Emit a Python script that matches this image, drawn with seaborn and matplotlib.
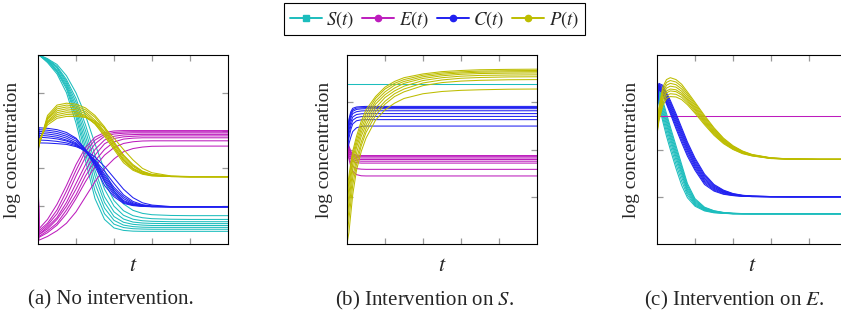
import matplotlib
matplotlib.use("Agg")
import matplotlib.pyplot as plt
import seaborn as sns
import pandas as pd
from matplotlib.lines import Line2D

# ---------------- data (normalised time t, normalised log concentration) ----------------
T_A = [0, 0.005, 0.05, 0.1, 0.15, 0.2, 0.25, 0.3, 0.35, 0.4, 0.45, 0.5, 0.55, 0.6, 0.7, 0.8, 1.0]

S_A = [
    [1.0, 1.0, 0.96, 0.90, 0.80, 0.64, 0.44, 0.24, 0.13, 0.085, 0.072, 0.068, 0.067, 0.067, 0.067, 0.067, 0.067],
    [1.0, 1.0, 0.965, 0.91, 0.82, 0.67, 0.48, 0.28, 0.16, 0.105, 0.087, 0.081, 0.079, 0.078, 0.078, 0.078, 0.078],
    [1.0, 1.0, 0.97, 0.915, 0.83, 0.69, 0.51, 0.32, 0.19, 0.125, 0.10, 0.092, 0.089, 0.088, 0.088, 0.088, 0.088],
    [1.0, 1.0, 0.97, 0.92, 0.84, 0.71, 0.54, 0.36, 0.22, 0.145, 0.115, 0.104, 0.10, 0.098, 0.098, 0.098, 0.098],
    [1.0, 1.0, 0.975, 0.93, 0.85, 0.73, 0.57, 0.39, 0.25, 0.17, 0.132, 0.116, 0.111, 0.109, 0.108, 0.108, 0.108],
    [1.0, 1.0, 0.975, 0.935, 0.86, 0.75, 0.60, 0.43, 0.29, 0.20, 0.152, 0.131, 0.123, 0.12, 0.118, 0.118, 0.118],
    [1.0, 1.0, 0.98, 0.94, 0.87, 0.77, 0.63, 0.47, 0.33, 0.23, 0.176, 0.15, 0.139, 0.134, 0.131, 0.13, 0.13],
    [1.0, 1.0, 0.98, 0.95, 0.89, 0.80, 0.68, 0.53, 0.39, 0.28, 0.212, 0.178, 0.162, 0.155, 0.151, 0.15, 0.15],
]
E_A = [
    [0.43, 0.08, 0.13, 0.21, 0.31, 0.42, 0.51, 0.565, 0.59, 0.598, 0.60, 0.60, 0.60, 0.60, 0.60, 0.60, 0.60],
    [0.43, 0.07, 0.11, 0.18, 0.28, 0.39, 0.49, 0.55, 0.58, 0.59, 0.593, 0.594, 0.594, 0.594, 0.594, 0.594, 0.594],
    [0.43, 0.06, 0.10, 0.16, 0.25, 0.36, 0.46, 0.53, 0.57, 0.582, 0.586, 0.588, 0.588, 0.588, 0.588, 0.588, 0.588],
    [0.43, 0.05, 0.09, 0.14, 0.22, 0.32, 0.42, 0.50, 0.55, 0.57, 0.577, 0.579, 0.58, 0.58, 0.58, 0.58, 0.58],
    [0.43, 0.05, 0.08, 0.13, 0.20, 0.29, 0.39, 0.47, 0.53, 0.558, 0.567, 0.57, 0.572, 0.572, 0.572, 0.572, 0.572],
    [0.43, 0.04, 0.07, 0.11, 0.18, 0.26, 0.36, 0.44, 0.50, 0.54, 0.555, 0.56, 0.562, 0.562, 0.562, 0.562, 0.562],
    [0.43, 0.035, 0.06, 0.10, 0.16, 0.24, 0.33, 0.41, 0.47, 0.51, 0.532, 0.541, 0.545, 0.546, 0.546, 0.546, 0.546],
    [0.43, 0.02, 0.04, 0.07, 0.11, 0.17, 0.25, 0.33, 0.40, 0.45, 0.488, 0.505, 0.513, 0.517, 0.518, 0.518, 0.518],
]
C_A = [
    [0.45, 0.615, 0.612, 0.605, 0.59, 0.56, 0.50, 0.41, 0.31, 0.25, 0.215, 0.203, 0.199, 0.197, 0.197, 0.197, 0.197],
    [0.45, 0.605, 0.602, 0.595, 0.58, 0.555, 0.50, 0.42, 0.33, 0.26, 0.22, 0.205, 0.20, 0.198, 0.197, 0.197, 0.197],
    [0.45, 0.595, 0.592, 0.585, 0.57, 0.545, 0.495, 0.425, 0.34, 0.27, 0.225, 0.207, 0.20, 0.198, 0.197, 0.197, 0.197],
    [0.45, 0.585, 0.582, 0.575, 0.56, 0.535, 0.49, 0.43, 0.35, 0.28, 0.23, 0.21, 0.201, 0.198, 0.197, 0.197, 0.197],
    [0.45, 0.575, 0.572, 0.565, 0.55, 0.53, 0.49, 0.435, 0.36, 0.29, 0.24, 0.213, 0.203, 0.199, 0.197, 0.197, 0.197],
    [0.45, 0.565, 0.562, 0.556, 0.545, 0.525, 0.49, 0.44, 0.37, 0.30, 0.25, 0.218, 0.205, 0.20, 0.197, 0.197, 0.197],
    [0.45, 0.55, 0.548, 0.543, 0.535, 0.52, 0.49, 0.445, 0.385, 0.32, 0.26, 0.225, 0.208, 0.201, 0.197, 0.197, 0.197],
    [0.45, 0.535, 0.534, 0.531, 0.527, 0.515, 0.495, 0.46, 0.41, 0.35, 0.29, 0.245, 0.218, 0.206, 0.198, 0.197, 0.197],
]
P_A = [
    [0.49, 0.52, 0.68, 0.735, 0.745, 0.74, 0.72, 0.68, 0.62, 0.54, 0.47, 0.415, 0.383, 0.367, 0.358, 0.356, 0.356],
    [0.49, 0.52, 0.67, 0.725, 0.735, 0.73, 0.71, 0.67, 0.61, 0.53, 0.46, 0.41, 0.38, 0.366, 0.358, 0.356, 0.356],
    [0.50, 0.53, 0.665, 0.715, 0.725, 0.72, 0.70, 0.655, 0.595, 0.52, 0.45, 0.40, 0.375, 0.364, 0.357, 0.356, 0.356],
    [0.50, 0.53, 0.66, 0.705, 0.715, 0.71, 0.69, 0.645, 0.585, 0.51, 0.44, 0.395, 0.372, 0.362, 0.357, 0.356, 0.356],
    [0.50, 0.53, 0.65, 0.695, 0.705, 0.70, 0.68, 0.635, 0.57, 0.50, 0.43, 0.39, 0.369, 0.36, 0.357, 0.356, 0.356],
    [0.51, 0.54, 0.645, 0.685, 0.695, 0.692, 0.675, 0.635, 0.58, 0.51, 0.445, 0.40, 0.374, 0.363, 0.357, 0.356, 0.356],
    [0.51, 0.54, 0.64, 0.675, 0.685, 0.683, 0.67, 0.64, 0.595, 0.535, 0.47, 0.42, 0.385, 0.368, 0.358, 0.356, 0.356],
    [0.52, 0.55, 0.63, 0.665, 0.675, 0.675, 0.67, 0.65, 0.615, 0.56, 0.50, 0.445, 0.40, 0.377, 0.36, 0.357, 0.356],
]

T_B = [0, 0.01, 0.02, 0.03, 0.05, 0.075, 0.1, 0.15, 0.2, 0.25, 0.3, 0.4, 0.5, 0.6, 0.7, 0.85, 1.0]

S_B = [
    [0.848, 0.848, 0.848, 0.848, 0.848, 0.848, 0.848, 0.848, 0.848, 0.848, 0.848, 0.848, 0.848, 0.848, 0.848, 0.848, 0.848],
]
E_B = [
    [0.56, 0.52, 0.49, 0.478, 0.47, 0.468, 0.468, 0.468, 0.468, 0.468, 0.468, 0.468, 0.468, 0.468, 0.468, 0.468, 0.468],
    [0.55, 0.51, 0.485, 0.472, 0.464, 0.462, 0.462, 0.462, 0.462, 0.462, 0.462, 0.462, 0.462, 0.462, 0.462, 0.462, 0.462],
    [0.54, 0.50, 0.478, 0.465, 0.457, 0.455, 0.455, 0.455, 0.455, 0.455, 0.455, 0.455, 0.455, 0.455, 0.455, 0.455, 0.455],
    [0.53, 0.49, 0.47, 0.457, 0.449, 0.447, 0.447, 0.447, 0.447, 0.447, 0.447, 0.447, 0.447, 0.447, 0.447, 0.447, 0.447],
    [0.52, 0.48, 0.46, 0.448, 0.44, 0.438, 0.438, 0.438, 0.438, 0.438, 0.438, 0.438, 0.438, 0.438, 0.438, 0.438, 0.438],
    [0.51, 0.47, 0.45, 0.438, 0.43, 0.428, 0.428, 0.428, 0.428, 0.428, 0.428, 0.428, 0.428, 0.428, 0.428, 0.428, 0.428],
    [0.50, 0.46, 0.43, 0.412, 0.399, 0.396, 0.395, 0.395, 0.395, 0.395, 0.395, 0.395, 0.395, 0.395, 0.395, 0.395, 0.395],
    [0.49, 0.45, 0.41, 0.385, 0.367, 0.361, 0.36, 0.36, 0.36, 0.36, 0.36, 0.36, 0.36, 0.36, 0.36, 0.36, 0.36],
]
C_B = [
    [0.56, 0.66, 0.70, 0.718, 0.725, 0.727, 0.728, 0.728, 0.728, 0.728, 0.728, 0.728, 0.728, 0.728, 0.728, 0.728, 0.728],
    [0.55, 0.65, 0.69, 0.71, 0.719, 0.721, 0.722, 0.722, 0.722, 0.722, 0.722, 0.722, 0.722, 0.722, 0.722, 0.722, 0.722],
    [0.54, 0.64, 0.68, 0.702, 0.712, 0.715, 0.716, 0.716, 0.716, 0.716, 0.716, 0.716, 0.716, 0.716, 0.716, 0.716, 0.716],
    [0.53, 0.62, 0.665, 0.69, 0.70, 0.704, 0.705, 0.705, 0.705, 0.705, 0.705, 0.705, 0.705, 0.705, 0.705, 0.705, 0.705],
    [0.52, 0.60, 0.645, 0.672, 0.685, 0.689, 0.69, 0.69, 0.69, 0.69, 0.69, 0.69, 0.69, 0.69, 0.69, 0.69, 0.69],
    [0.51, 0.58, 0.625, 0.655, 0.669, 0.674, 0.675, 0.675, 0.675, 0.675, 0.675, 0.675, 0.675, 0.675, 0.675, 0.675, 0.675],
    [0.50, 0.56, 0.605, 0.635, 0.652, 0.657, 0.658, 0.658, 0.658, 0.658, 0.658, 0.658, 0.658, 0.658, 0.658, 0.658, 0.658],
    [0.49, 0.53, 0.565, 0.595, 0.615, 0.622, 0.624, 0.624, 0.624, 0.624, 0.624, 0.624, 0.624, 0.624, 0.624, 0.624, 0.624],
]
P_B = [
    [0.28, 0.36, 0.43, 0.49, 0.57, 0.65, 0.71, 0.78, 0.83, 0.86, 0.88, 0.90, 0.912, 0.918, 0.922, 0.924, 0.925],
    [0.24, 0.33, 0.41, 0.47, 0.55, 0.63, 0.69, 0.77, 0.82, 0.85, 0.87, 0.893, 0.905, 0.911, 0.915, 0.917, 0.918],
    [0.20, 0.30, 0.38, 0.45, 0.53, 0.61, 0.67, 0.755, 0.805, 0.84, 0.86, 0.885, 0.898, 0.905, 0.909, 0.911, 0.912],
    [0.16, 0.26, 0.35, 0.42, 0.51, 0.59, 0.65, 0.74, 0.79, 0.825, 0.85, 0.876, 0.89, 0.898, 0.902, 0.904, 0.905],
    [0.12, 0.22, 0.31, 0.39, 0.48, 0.57, 0.63, 0.72, 0.775, 0.81, 0.835, 0.865, 0.88, 0.888, 0.892, 0.894, 0.895],
    [0.08, 0.18, 0.27, 0.35, 0.45, 0.54, 0.61, 0.70, 0.755, 0.795, 0.82, 0.852, 0.868, 0.877, 0.881, 0.884, 0.885],
    [0.04, 0.13, 0.22, 0.31, 0.42, 0.52, 0.59, 0.68, 0.74, 0.78, 0.805, 0.838, 0.854, 0.862, 0.866, 0.869, 0.87],
    [0.0, 0.06, 0.16, 0.26, 0.39, 0.49, 0.56, 0.655, 0.71, 0.745, 0.77, 0.795, 0.807, 0.813, 0.816, 0.819, 0.82],
]

T_C = [0, 0.01, 0.03, 0.05, 0.07, 0.1, 0.13, 0.16, 0.2, 0.25, 0.3, 0.35, 0.4, 0.45, 0.5, 0.6, 0.7, 0.85, 1.0]

S_C = [
    [0.84, 0.82, 0.76, 0.69, 0.62, 0.52, 0.42, 0.32, 0.24, 0.195, 0.176, 0.167, 0.163, 0.161, 0.16, 0.16, 0.16, 0.16, 0.16],
    [0.835, 0.81, 0.745, 0.675, 0.605, 0.504, 0.407, 0.31, 0.234, 0.192, 0.175, 0.166, 0.162, 0.161, 0.16, 0.16, 0.16, 0.16, 0.16],
    [0.83, 0.80, 0.73, 0.66, 0.59, 0.49, 0.395, 0.30, 0.228, 0.189, 0.173, 0.165, 0.162, 0.16, 0.16, 0.16, 0.16, 0.16, 0.16],
    [0.82, 0.79, 0.715, 0.645, 0.575, 0.475, 0.382, 0.29, 0.222, 0.186, 0.171, 0.164, 0.161, 0.16, 0.16, 0.16, 0.16, 0.16, 0.16],
    [0.81, 0.78, 0.70, 0.63, 0.56, 0.46, 0.37, 0.28, 0.216, 0.183, 0.17, 0.164, 0.161, 0.16, 0.16, 0.16, 0.16, 0.16, 0.16],
    [0.80, 0.77, 0.685, 0.612, 0.543, 0.443, 0.353, 0.27, 0.21, 0.18, 0.168, 0.163, 0.16, 0.16, 0.16, 0.16, 0.16, 0.16, 0.16],
    [0.79, 0.755, 0.668, 0.592, 0.522, 0.422, 0.332, 0.258, 0.205, 0.178, 0.167, 0.163, 0.16, 0.16, 0.16, 0.16, 0.16, 0.16, 0.16],
    [0.78, 0.74, 0.65, 0.57, 0.50, 0.40, 0.31, 0.245, 0.20, 0.175, 0.165, 0.162, 0.16, 0.16, 0.16, 0.16, 0.16, 0.16, 0.16],
]
E_C = [
    [0.675, 0.675, 0.675, 0.675, 0.675, 0.675, 0.675, 0.675, 0.675, 0.675, 0.675, 0.675, 0.675, 0.675, 0.675, 0.675, 0.675, 0.675, 0.675],
]
C_C = [
    [0.78, 0.85, 0.84, 0.80, 0.76, 0.69, 0.615, 0.54, 0.455, 0.37, 0.315, 0.285, 0.267, 0.258, 0.254, 0.251, 0.25, 0.25, 0.25],
    [0.77, 0.845, 0.833, 0.792, 0.75, 0.679, 0.604, 0.53, 0.446, 0.362, 0.31, 0.282, 0.265, 0.257, 0.253, 0.251, 0.25, 0.25, 0.25],
    [0.76, 0.84, 0.826, 0.783, 0.74, 0.668, 0.593, 0.52, 0.436, 0.354, 0.305, 0.279, 0.263, 0.256, 0.253, 0.251, 0.25, 0.25, 0.25],
    [0.75, 0.837, 0.819, 0.774, 0.73, 0.657, 0.583, 0.51, 0.427, 0.346, 0.30, 0.276, 0.262, 0.255, 0.252, 0.25, 0.25, 0.25, 0.25],
    [0.74, 0.833, 0.812, 0.765, 0.72, 0.646, 0.572, 0.50, 0.418, 0.338, 0.295, 0.273, 0.26, 0.254, 0.252, 0.25, 0.25, 0.25, 0.25],
    [0.73, 0.829, 0.805, 0.757, 0.71, 0.635, 0.561, 0.49, 0.409, 0.331, 0.29, 0.27, 0.259, 0.254, 0.251, 0.25, 0.25, 0.25, 0.25],
    [0.715, 0.825, 0.798, 0.748, 0.70, 0.622, 0.548, 0.477, 0.399, 0.323, 0.285, 0.266, 0.257, 0.253, 0.251, 0.25, 0.25, 0.25, 0.25],
    [0.70, 0.82, 0.79, 0.74, 0.69, 0.61, 0.535, 0.465, 0.39, 0.315, 0.28, 0.263, 0.256, 0.252, 0.251, 0.25, 0.25, 0.25, 0.25],
]
P_C = [
    [0.62, 0.72, 0.83, 0.87, 0.88, 0.87, 0.845, 0.805, 0.75, 0.68, 0.615, 0.56, 0.52, 0.492, 0.474, 0.456, 0.45, 0.448, 0.448],
    [0.615, 0.71, 0.815, 0.855, 0.865, 0.857, 0.833, 0.795, 0.742, 0.673, 0.61, 0.556, 0.517, 0.49, 0.472, 0.455, 0.45, 0.448, 0.448],
    [0.61, 0.70, 0.80, 0.84, 0.85, 0.843, 0.82, 0.785, 0.733, 0.665, 0.603, 0.551, 0.514, 0.488, 0.471, 0.455, 0.45, 0.448, 0.448],
    [0.605, 0.69, 0.785, 0.825, 0.835, 0.83, 0.808, 0.774, 0.724, 0.658, 0.597, 0.547, 0.511, 0.486, 0.47, 0.454, 0.449, 0.448, 0.448],
    [0.60, 0.68, 0.77, 0.81, 0.82, 0.816, 0.797, 0.765, 0.716, 0.651, 0.591, 0.543, 0.508, 0.484, 0.469, 0.454, 0.449, 0.448, 0.448],
    [0.595, 0.67, 0.76, 0.80, 0.81, 0.806, 0.788, 0.757, 0.709, 0.645, 0.586, 0.539, 0.505, 0.482, 0.468, 0.453, 0.449, 0.448, 0.448],
    [0.59, 0.66, 0.745, 0.785, 0.795, 0.792, 0.776, 0.747, 0.70, 0.638, 0.58, 0.535, 0.502, 0.48, 0.467, 0.453, 0.449, 0.448, 0.448],
    [0.58, 0.65, 0.73, 0.77, 0.78, 0.778, 0.764, 0.737, 0.692, 0.631, 0.575, 0.531, 0.50, 0.478, 0.466, 0.452, 0.449, 0.448, 0.448],
]

SPECIES = ["S", "E", "C", "P"]
LEGEND_LABELS = [r"$S(t)$", r"$E(t)$", r"$C(t)$", r"$P(t)$"]
CAPTIONS = ["(a) No intervention.", r"(b) Intervention on $S$.", r"(c) Intervention on $E$."]
Y_LABEL = "log concentration"
X_LABEL = r"$t$"

# ---------------- style ----------------
COLORS = {"S": "#1CBDBD", "E": "#BD1CBD", "C": "#2020F0", "P": "#BDBD00"}
sns.set_style("white")
plt.rcParams["font.family"] = ["Liberation Serif", "DejaVu Serif"]
plt.rcParams["mathtext.fontset"] = "stix"


def long_frame(t, groups):
    rows = []
    for sp, curves in groups.items():
        for i, curve in enumerate(curves):
            for tt, v in zip(t, curve):
                rows.append((sp, f"{sp}{i}", tt, v))
    return pd.DataFrame(rows, columns=["species", "run", "t", "value"])


panels = [
    (T_A, {"S": S_A, "E": E_A, "C": C_A, "P": P_A}, [0.2, 0.4, 0.6, 0.8], 38, -0.09),
    (T_B, {"S": S_B, "E": E_B, "C": C_B, "P": P_B}, [0.25, 0.5, 0.75], 347, -0.072),
    (T_C, {"S": S_C, "E": E_C, "C": C_C, "P": P_C}, [0.25, 0.5, 0.75], 657, -0.09),
]

W, H = 841, 324
fig = plt.figure(figsize=(W / 100, H / 100), dpi=100)

for t, groups, yticks, left_px, ylab_x in panels:
    ax = fig.add_axes([left_px / W, 1 - 244 / H, 190 / W, 189 / H])
    df = long_frame(t, groups)
    sns.lineplot(data=df, x="t", y="value", hue="species", units="run",
                 estimator=None, hue_order=SPECIES, palette=COLORS,
                 legend=False, lw=0.75, ax=ax)
    ax.set_xlim(0, 1)
    ax.set_ylim(0, 1)
    ax.set_xticks([0.2, 0.4, 0.6, 0.8])
    ax.set_yticks(yticks)
    ax.tick_params(direction="in", length=4.5, width=0.9, color="#999999",
                   top=True, right=True, bottom=True, left=True,
                   labelbottom=False, labelleft=False)
    for sp in ax.spines.values():
        sp.set_color("black")
        sp.set_linewidth(0.8)
    ax.set_xlabel(X_LABEL, fontsize=16)
    ax.set_ylabel(Y_LABEL, fontsize=14)
    ax.xaxis.set_label_coords(0.5, -0.07)
    ax.yaxis.set_label_coords(ylab_x, 0.5)

# captions
for x_px, cap in zip([111, 425, 734], CAPTIONS):
    fig.text(x_px / W, 1 - 300 / H, cap, ha="center", va="center", fontsize=15)

# legend
handles = [
    Line2D([], [], color=COLORS[sp], marker=("s" if sp == "S" else "o"),
           markersize=4.5, lw=1.4)
    for sp in SPECIES
]
leg = fig.legend(handles, LEGEND_LABELS, loc="upper center",
                 bbox_to_anchor=(434.5 / W, 1 - 3 / H), ncol=4, frameon=True,
                 fancybox=False, edgecolor="black", framealpha=1, fontsize=13.5,
                 handlelength=1.7, columnspacing=0.4, handletextpad=0.25,
                 borderpad=0.3, borderaxespad=0)
leg.get_frame().set_linewidth(0.8)

fig.savefig("out.png", dpi=100)
